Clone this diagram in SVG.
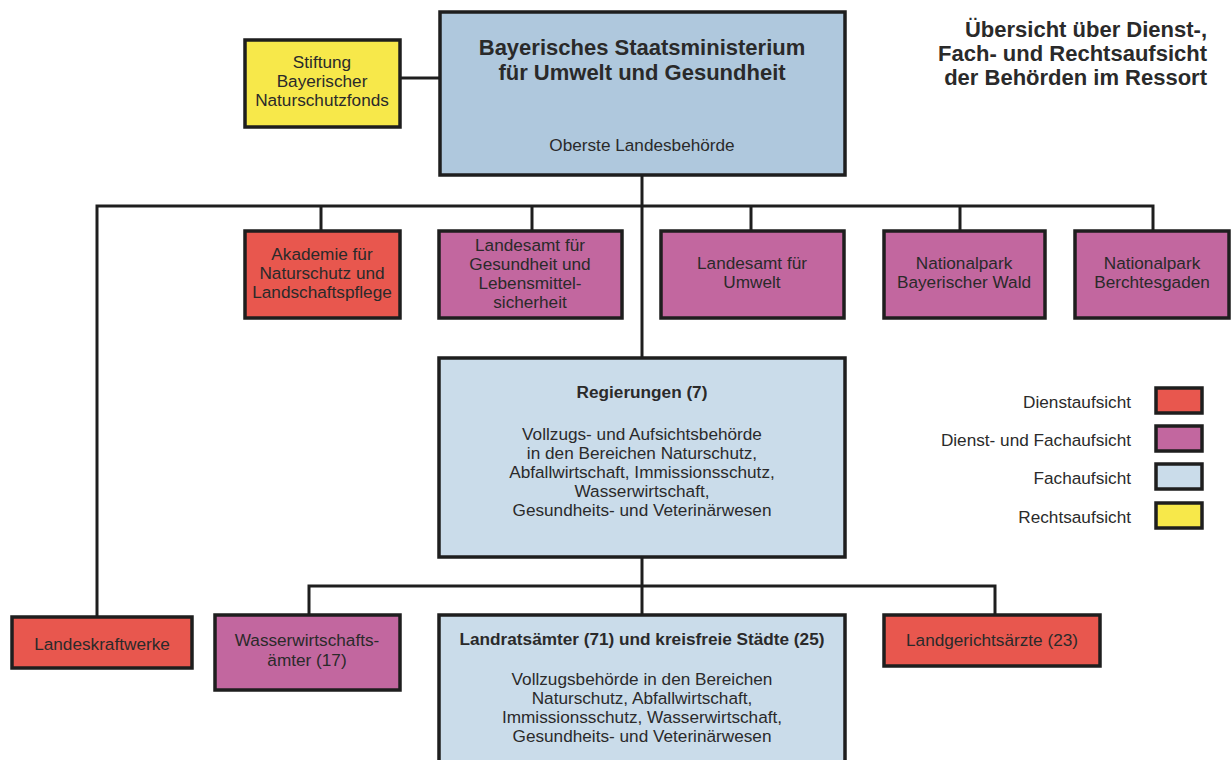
<svg xmlns="http://www.w3.org/2000/svg" width="1232" height="760" viewBox="0 0 1232 760">
<style>
text{font-family:"Liberation Sans",Arial,sans-serif;fill:#2a2a2a;font-size:17.2px;text-anchor:middle}
.b{font-weight:bold}
.box{stroke:#1e1e1e;stroke-width:3.5}
.red{fill:#E8574E}
.mag{fill:#C2679F}
.blu{fill:#AFC8DD}
.lb{fill:#CADCEA}
.yel{fill:#F7E84A}
.ln{stroke:#1e1e1e;stroke-width:3;fill:none}
.r{text-anchor:end}
.t{font-size:22px}
</style>
<g id="connectors">
<line class="ln" x1="400" y1="78" x2="440" y2="78"/>
<line class="ln" x1="642" y1="175" x2="642" y2="358"/>
<polyline class="ln" points="97,617 97,206 1153,206 1153,231"/>
<line class="ln" x1="321" y1="206" x2="321" y2="231"/>
<line class="ln" x1="532" y1="206" x2="532" y2="231"/>
<line class="ln" x1="751" y1="206" x2="751" y2="231"/>
<line class="ln" x1="960" y1="206" x2="960" y2="231"/>
<line class="ln" x1="642" y1="557" x2="642" y2="615"/>
<polyline class="ln" points="309,615 309,586 995,586 995,615"/>
</g>
<g id="title">
<text class="b r t" x="1207" y="37">Übersicht über Dienst-,</text>
<text class="b r t" x="1207" y="61">Fach- und Rechtsaufsicht</text>
<text class="b r t" x="1207" y="85">der Behörden im Ressort</text>
</g>
<g id="stiftung">
<rect class="box yel" x="245" y="40" width="155" height="87"/>
<text x="322" y="68">Stiftung</text>
<text x="322" y="87">Bayerischer</text>
<text x="322" y="106">Naturschutzfonds</text>
</g>
<g id="ministerium">
<rect class="box blu" x="440" y="12" width="405" height="163"/>
<text class="b t" x="642" y="55">Bayerisches Staatsministerium</text>
<text class="b t" x="642" y="80">für Umwelt und Gesundheit</text>
<text x="642" y="151">Oberste Landesbehörde</text>
</g>
<g id="akademie">
<rect class="box red" x="245" y="231" width="155" height="87"/>
<text x="322" y="260">Akademie für</text>
<text x="322" y="279">Naturschutz und</text>
<text x="322" y="298">Landschaftspflege</text>
</g>
<g id="lgl">
<rect class="box mag" x="439" y="231" width="183" height="87"/>
<text x="530" y="251">Landesamt für</text>
<text x="530" y="270">Gesundheit und</text>
<text x="530" y="289">Lebensmittel-</text>
<text x="530" y="308">sicherheit</text>
</g>
<g id="lfu">
<rect class="box mag" x="661" y="231" width="183" height="87"/>
<text x="752" y="269">Landesamt für</text>
<text x="752" y="288">Umwelt</text>
</g>
<g id="npbw">
<rect class="box mag" x="884" y="231" width="161" height="87"/>
<text x="964" y="269">Nationalpark</text>
<text x="964" y="288">Bayerischer Wald</text>
</g>
<g id="npb">
<rect class="box mag" x="1075" y="231" width="154" height="87"/>
<text x="1152" y="269">Nationalpark</text>
<text x="1152" y="288">Berchtesgaden</text>
</g>
<g id="regierungen">
<rect class="box lb" x="439" y="358" width="406" height="199"/>
<text class="b" x="642" y="398">Regierungen (7)</text>
<text x="642" y="440">Vollzugs- und Aufsichtsbehörde</text>
<text x="642" y="459">in den Bereichen Naturschutz,</text>
<text x="642" y="478">Abfallwirtschaft, Immissionsschutz,</text>
<text x="642" y="497">Wasserwirtschaft,</text>
<text x="642" y="516">Gesundheits- und Veterinärwesen</text>
</g>
<g id="legend">
<text class="r" x="1131" y="408">Dienstaufsicht</text>
<rect class="box red" x="1156" y="388" width="46" height="25"/>
<text class="r" x="1131" y="446">Dienst- und Fachaufsicht</text>
<rect class="box mag" x="1156" y="426" width="46" height="25"/>
<text class="r" x="1131" y="484">Fachaufsicht</text>
<rect class="box lb" x="1156" y="464" width="46" height="25"/>
<text class="r" x="1131" y="523">Rechtsaufsicht</text>
<rect class="box yel" x="1156" y="503" width="46" height="25"/>
</g>
<g id="landeskraftwerke">
<rect class="box red" x="12" y="617" width="180" height="51"/>
<text x="102" y="650">Landeskraftwerke</text>
</g>
<g id="wwa">
<rect class="box mag" x="215" y="615" width="185" height="75"/>
<text x="307" y="646">Wasserwirtschafts-</text>
<text x="307" y="666">ämter (17)</text>
</g>
<g id="landratsaemter">
<rect class="box lb" x="439" y="615" width="406" height="160"/>
<text class="b" x="642" y="645">Landratsämter (71) und kreisfreie Städte (25)</text>
<text x="642" y="685">Vollzugsbehörde in den Bereichen</text>
<text x="642" y="704">Naturschutz, Abfallwirtschaft,</text>
<text x="642" y="723">Immissionsschutz, Wasserwirtschaft,</text>
<text x="642" y="742">Gesundheits- und Veterinärwesen</text>
</g>
<g id="landgerichtsaerzte">
<rect class="box red" x="884" y="615" width="216" height="51"/>
<text x="992" y="646">Landgerichtsärzte (23)</text>
</g>
</svg>
